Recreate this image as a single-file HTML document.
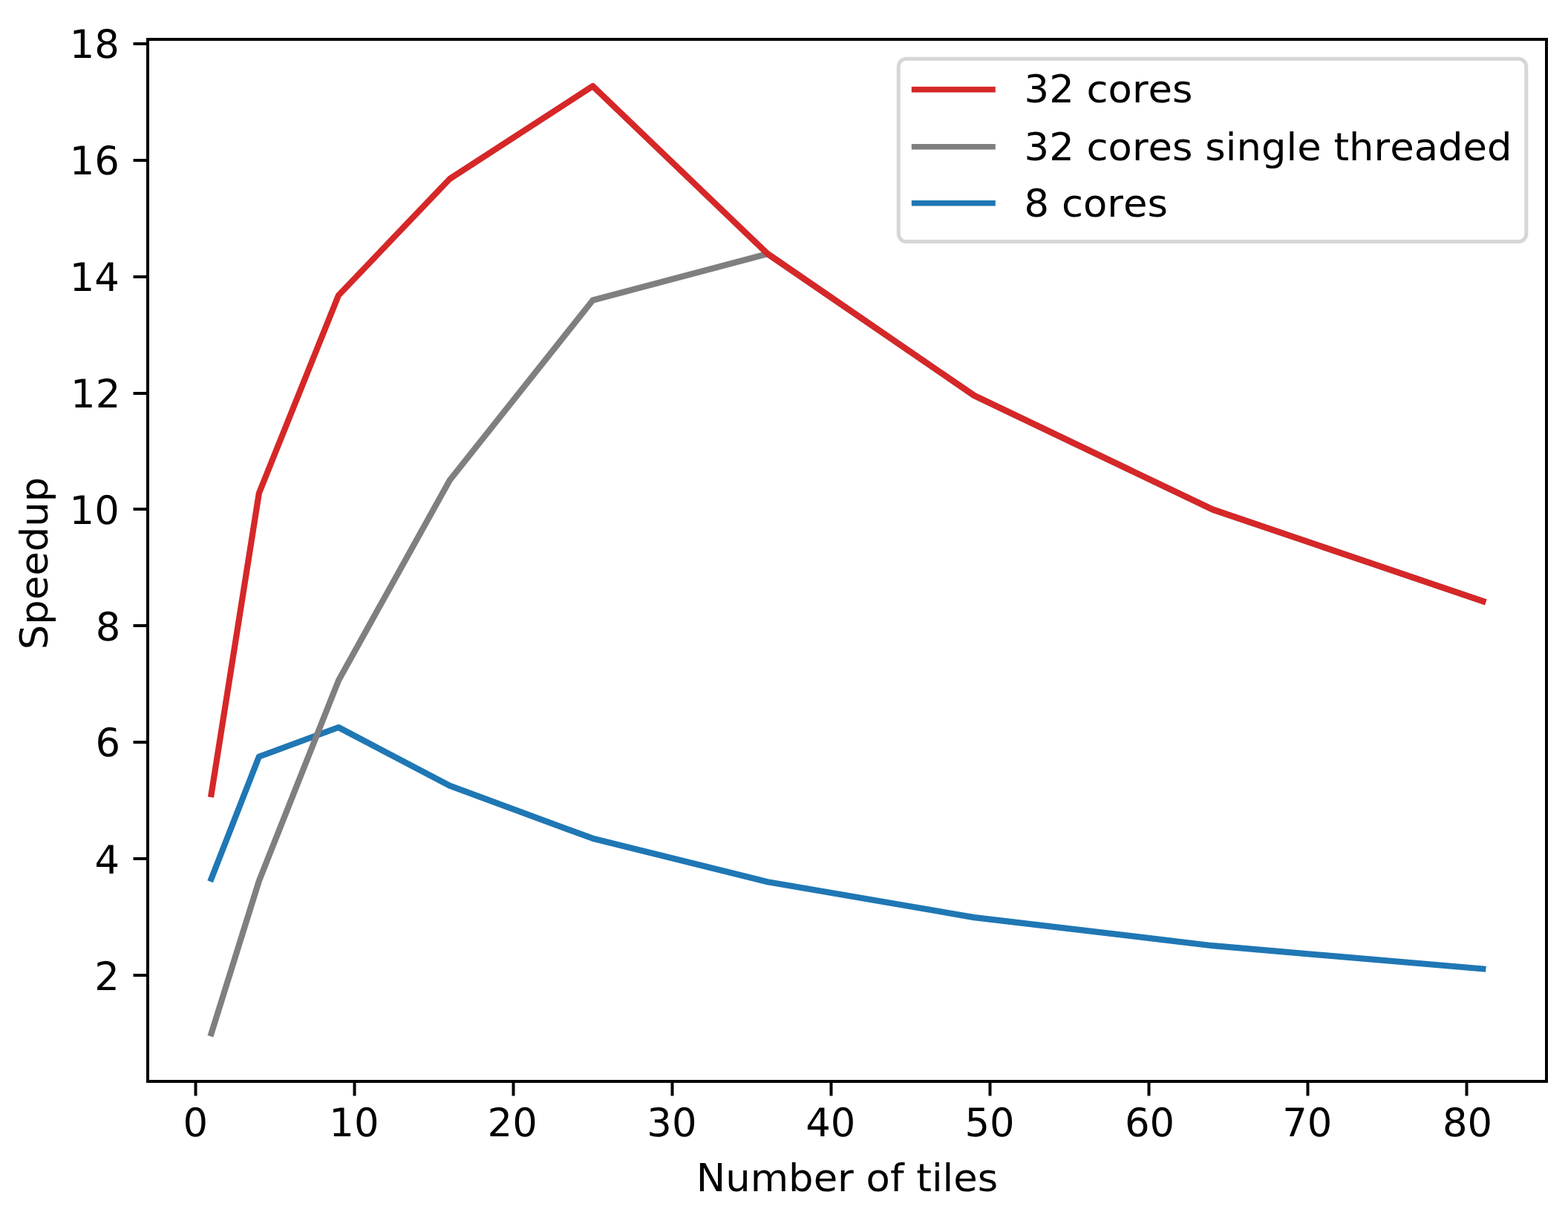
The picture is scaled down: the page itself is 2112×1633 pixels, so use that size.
<!DOCTYPE html>
<html lang="en"><head><meta charset="utf-8"><title>Speedup vs number of tiles</title>
<style>
html,body{margin:0;padding:0;background:#fff;}
body{width:2112px;height:1633px;overflow:hidden;}
svg{display:block;}
text{font-family:'DejaVu Sans', 'Liberation Sans', sans-serif;font-size:52.8px;fill:#000;font-kerning:none;font-variant-ligatures:none;}
text.tk{text-rendering:geometricPrecision;}
</style></head><body>
<svg xmlns="http://www.w3.org/2000/svg" width="2112" height="1633" viewBox="0 0 2112 1633">
<rect x="0" y="0" width="2112" height="1633" fill="#ffffff"/>
<polyline fill="none" stroke="#1f77b4" stroke-width="8.2" stroke-linecap="square" stroke-linejoin="round" points="284.64,1184.00 348.86,1019.50 455.91,980.00 605.77,1058.70 798.45,1129.70 1033.95,1188.20 1312.27,1236.10 1633.41,1274.20 1997.36,1305.40"/>
<polyline fill="none" stroke="#7f7f7f" stroke-width="8.2" stroke-linecap="square" stroke-linejoin="round" points="284.64,1392.40 348.86,1187.00 455.91,917.00 605.77,647.00 798.45,404.50 1033.95,342.00 1312.27,533.00 1633.41,686.50 1997.36,810.00"/>
<polyline fill="none" stroke="#d62728" stroke-width="8.2" stroke-linecap="square" stroke-linejoin="round" points="284.64,1070.00 348.86,664.50 455.91,398.00 605.77,241.00 798.45,116.00 1033.95,342.00 1312.27,533.00 1633.41,686.50 1997.36,810.00"/>
<g stroke="#000" stroke-width="4.0" stroke-linecap="butt">
<line x1="263.50" y1="1457.0" x2="263.50" y2="1476.5"/>
<line x1="477.50" y1="1457.0" x2="477.50" y2="1476.5"/>
<line x1="691.50" y1="1457.0" x2="691.50" y2="1476.5"/>
<line x1="905.50" y1="1457.0" x2="905.50" y2="1476.5"/>
<line x1="1119.50" y1="1457.0" x2="1119.50" y2="1476.5"/>
<line x1="1333.50" y1="1457.0" x2="1333.50" y2="1476.5"/>
<line x1="1547.50" y1="1457.0" x2="1547.50" y2="1476.5"/>
<line x1="1761.50" y1="1457.0" x2="1761.50" y2="1476.5"/>
<line x1="1975.50" y1="1457.0" x2="1975.50" y2="1476.5"/>
<line x1="199.0" y1="1314.00" x2="179.5" y2="1314.00"/>
<line x1="199.0" y1="1157.00" x2="179.5" y2="1157.00"/>
<line x1="199.0" y1="1000.00" x2="179.5" y2="1000.00"/>
<line x1="199.0" y1="843.00" x2="179.5" y2="843.00"/>
<line x1="199.0" y1="686.00" x2="179.5" y2="686.00"/>
<line x1="199.0" y1="530.00" x2="179.5" y2="530.00"/>
<line x1="199.0" y1="373.00" x2="179.5" y2="373.00"/>
<line x1="199.0" y1="216.00" x2="179.5" y2="216.00"/>
<line x1="199.0" y1="59.00" x2="179.5" y2="59.00"/>
</g>
<rect x="199.0" y="53.0" width="1884.0" height="1404.0" fill="none" stroke="#000" stroke-width="4.0" stroke-linejoin="miter"/>
<text class="tk" transform="translate(263.23,1531.00)" text-anchor="middle">0</text>
<text class="tk" transform="translate(476.92,1531.00)" text-anchor="middle">10</text>
<text class="tk" transform="translate(690.21,1531.00)" text-anchor="middle">20</text>
<text class="tk" transform="translate(904.95,1531.00)" text-anchor="middle">30</text>
<text class="tk" transform="translate(1118.79,1531.00)" text-anchor="middle">40</text>
<text class="tk" transform="translate(1332.98,1531.00)" text-anchor="middle">50</text>
<text class="tk" transform="translate(1548.47,1531.00)" text-anchor="middle">60</text>
<text class="tk" transform="translate(1760.76,1531.00)" text-anchor="middle">70</text>
<text class="tk" transform="translate(1976.50,1531.00)" text-anchor="middle">80</text>
<text class="tk" transform="translate(160.75,1334.00)" text-anchor="end">2</text>
<text class="tk" transform="translate(161.00,1177.00)" text-anchor="end">4</text>
<text class="tk" transform="translate(162.10,1019.00)" text-anchor="end">6</text>
<text class="tk" transform="translate(162.40,863.00)" text-anchor="end">8</text>
<text class="tk" transform="translate(160.80,706.00)" text-anchor="end">10</text>
<text class="tk" transform="translate(162.30,549.00)" text-anchor="end">12</text>
<text class="tk" transform="translate(160.95,392.00)" text-anchor="end">14</text>
<text class="tk" transform="translate(160.90,235.00)" text-anchor="end">16</text>
<text class="tk" transform="translate(160.85,78.00)" text-anchor="end">18</text>
<text transform="translate(1141.00,1605.00) scale(1,0.98)" text-anchor="middle">Number of tiles</text>
<text transform="translate(64.00,759.00) rotate(-90) scale(1,0.98)" text-anchor="middle">Speedup</text>
<rect x="1210.3" y="79.2" width="845.50" height="246.30" rx="10.6" ry="10.6" fill="#ffffff" fill-opacity="0.8" stroke="#cccccc" stroke-opacity="0.8" stroke-width="5.0"/>
<line x1="1231.6" y1="120.6" x2="1337.0" y2="120.6" stroke="#d62728" stroke-width="7.6" stroke-linecap="square"/>
<text transform="translate(1379.60,138.00) scale(1,0.98)" text-anchor="start">32 cores</text>
<line x1="1231.6" y1="197.8" x2="1337.0" y2="197.8" stroke="#7f7f7f" stroke-width="7.6" stroke-linecap="square"/>
<text transform="translate(1379.60,216.00) scale(1,0.98)" text-anchor="start">32 cores single threaded</text>
<line x1="1231.6" y1="273.8" x2="1337.0" y2="273.8" stroke="#1f77b4" stroke-width="7.6" stroke-linecap="square"/>
<text transform="translate(1379.60,292.00) scale(1,0.98)" text-anchor="start">8 cores</text>
</svg>
</body></html>
